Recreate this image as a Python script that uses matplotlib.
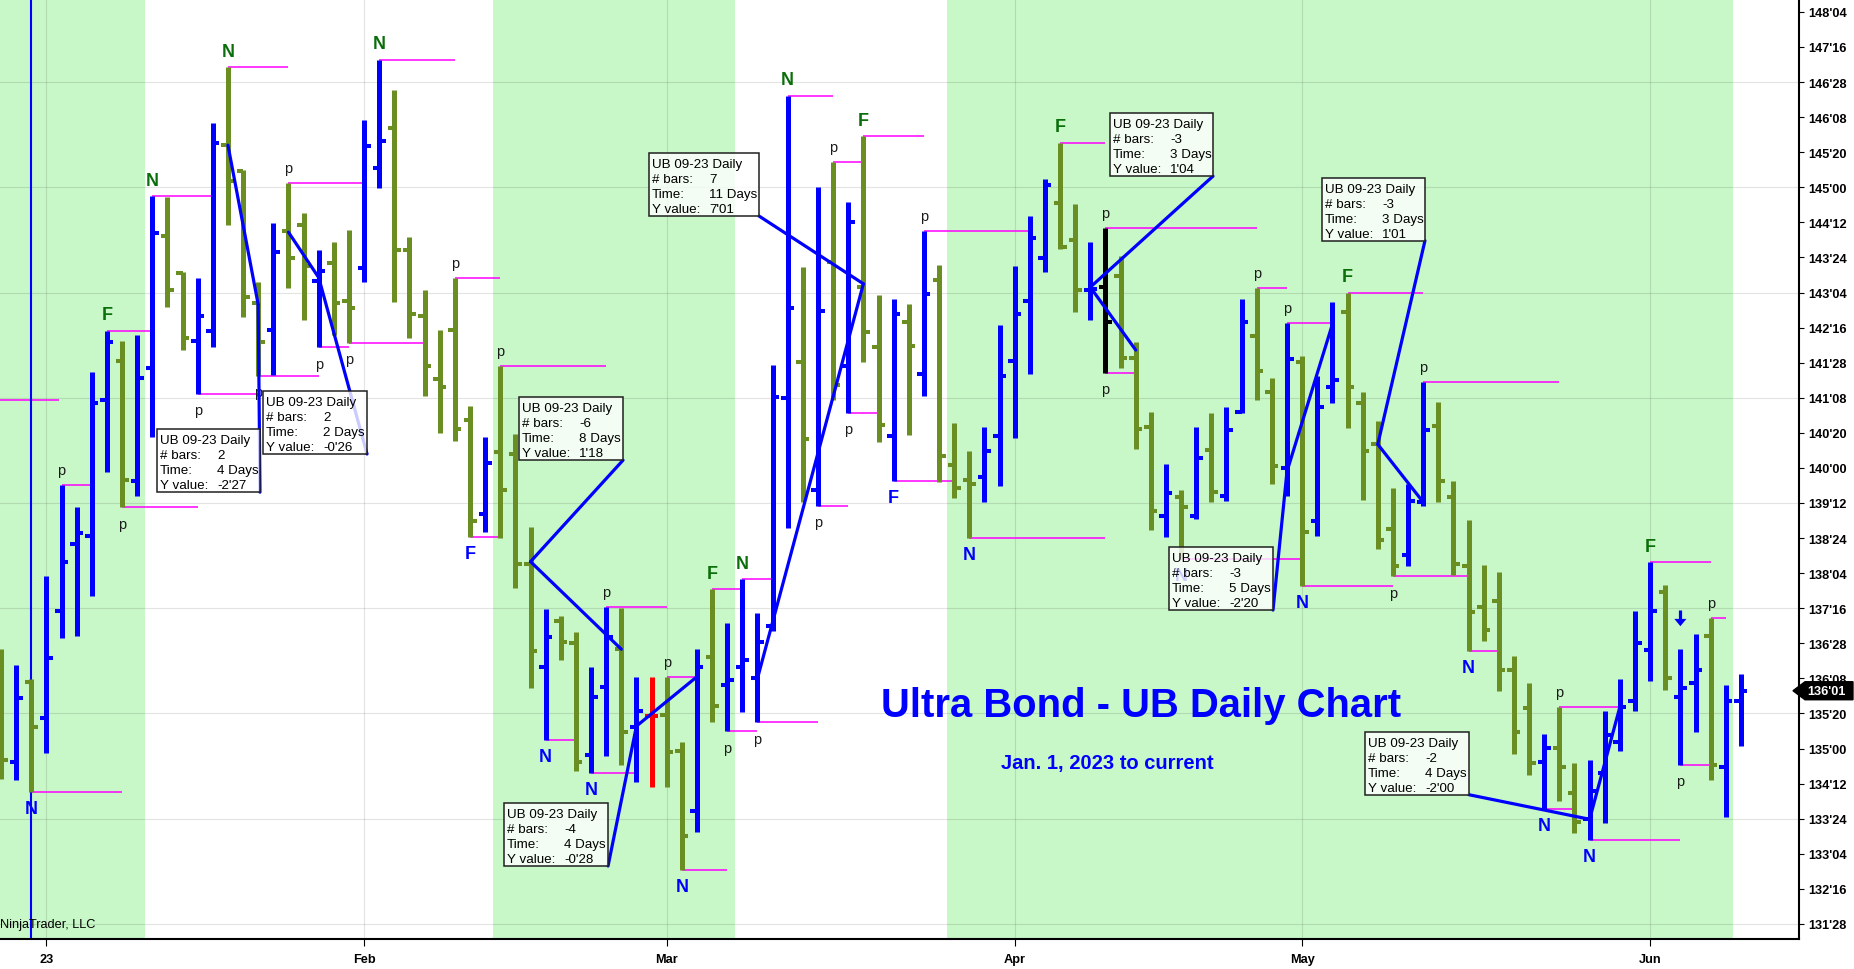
import matplotlib.pyplot as plt
from matplotlib.patches import Rectangle, Polygon
import numpy as np

plt.rcParams['font.family'] = ['Liberation Sans', 'DejaVu Sans']

# UB 09-23 daily bars, bar 0 = Dec 28 2022 ... bar 115 = Jun 9 2023
opens = [136.51, 134.76, 136.19, 135.54, 137.45, 138.64, 138.79, 141.21, 141.91, 139.77,
         141.78, 144.13, 143.47, 142.26, 142.44, 145.75, 145.29, 142.94, 142.46, 144.22,
         144.33, 143.33, 143.65, 142.97, 143.56, 145.34, 146.06, 143.88, 142.71, 141.58,
         142.46, 140.85, 139.18, 140.28, 140.25, 138.29, 136.45, 137.27, 136.88, 134.89,
         136.10, 136.77, 135.38, 135.58, 135.60, 134.96, 133.89, 136.63, 136.13, 136.45,
         136.26, 137.18, 141.25, 141.89, 139.61, 143.67, 141.82, 143.22, 142.15, 140.57,
         142.60, 141.67, 143.35, 140.05, 139.78, 139.84, 140.57, 141.91, 142.97, 143.74,
         144.72, 144.06, 143.17, 143.22, 143.42, 141.96, 140.73, 139.14, 139.48, 139.14,
         140.32, 139.50, 141.00, 142.35, 141.35, 140.00, 141.89, 139.05, 141.44, 142.78,
         141.16, 140.43, 138.91, 138.45, 139.39, 140.75, 139.48, 138.25, 137.52, 137.63,
         136.40, 135.72, 134.76, 135.01, 134.21, 133.74, 134.56, 135.12, 135.85, 136.76,
         137.79, 135.92, 136.17, 137.00, 134.67, 135.85]
highs = [136.77, 136.49, 136.24, 138.07, 139.69, 139.30, 141.71, 142.44, 142.26, 142.37,
         144.84, 144.83, 143.49, 143.38, 146.14, 147.14, 145.31, 143.31, 144.36, 145.08,
         144.54, 143.88, 144.02, 144.24, 146.20, 147.27, 146.73, 144.11, 143.17, 142.46,
         143.38, 141.10, 140.55, 141.82, 140.60, 138.95, 137.49, 137.36, 137.08, 136.45,
         137.52, 137.50, 136.28, 136.28, 136.28, 135.12, 136.77, 137.84, 137.24, 138.02,
         137.42, 141.83, 146.63, 143.58, 145.00, 145.45, 144.74, 145.91, 143.08, 143.01,
         142.92, 144.22, 143.62, 140.80, 140.30, 140.73, 142.55, 143.60, 144.49, 145.15,
         145.79, 144.70, 144.02, 144.27, 143.78, 142.24, 141.00, 140.07, 139.61, 140.73,
         140.98, 141.08, 143.01, 143.20, 141.60, 142.58, 141.99, 141.64, 142.95, 143.12,
         141.35, 140.84, 139.64, 139.71, 141.53, 141.17, 139.77, 139.07, 138.27, 138.15,
         136.65, 136.17, 135.26, 135.74, 134.74, 134.80, 135.67, 136.24, 137.45, 138.32,
         137.91, 136.77, 137.04, 137.33, 136.13, 136.33]
lows = [134.46, 134.44, 134.23, 134.92, 136.97, 137.00, 137.72, 139.93, 139.30, 139.50,
        140.55, 142.87, 142.10, 141.32, 142.15, 144.33, 142.69, 141.64, 141.65, 143.20,
        142.64, 142.15, 142.37, 142.23, 143.31, 144.99, 142.95, 142.31, 141.28, 140.62,
        140.48, 138.77, 138.86, 138.75, 137.86, 136.08, 135.15, 136.58, 134.60, 134.56,
        134.87, 134.71, 134.40, 134.31, 134.31, 132.84, 133.51, 135.47, 135.31, 135.65,
        135.47, 137.09, 138.93, 139.39, 139.32, 141.21, 140.98, 141.89, 140.46, 139.77,
        140.59, 141.28, 139.75, 139.46, 138.75, 139.39, 139.68, 140.53, 141.67, 143.49,
        143.90, 142.78, 142.64, 141.69, 141.78, 140.34, 138.89, 138.77, 138.38, 139.09,
        139.39, 139.41, 140.98, 141.21, 139.71, 139.50, 137.90, 138.79, 141.16, 140.71,
        139.43, 138.55, 138.07, 138.25, 139.32, 139.39, 138.09, 136.74, 136.92, 136.03,
        134.90, 134.53, 133.92, 134.07, 133.50, 133.37, 133.67, 134.96, 135.67, 136.20,
        136.04, 134.71, 135.29, 134.44, 133.78, 135.05]
closes = [134.80, 135.90, 135.38, 136.61, 138.32, 138.84, 141.16, 142.24, 139.78, 141.60,
          144.19, 143.17, 142.31, 142.71, 145.79, 145.11, 143.04, 142.24, 143.85, 143.74,
          143.60, 143.51, 142.94, 142.85, 145.74, 145.82, 143.88, 142.74, 141.82, 141.44,
          140.69, 139.05, 140.09, 139.61, 138.29, 136.74, 136.99, 136.90, 134.76, 135.92,
          136.99, 135.29, 135.67, 135.58, 134.94, 133.44, 136.45, 135.76, 136.22, 136.58,
          136.90, 141.26, 142.85, 140.51, 142.80, 141.48, 144.38, 142.42, 140.76, 142.74,
          142.17, 143.10, 140.21, 139.64, 139.71, 140.30, 141.64, 142.74, 144.10, 145.04,
          143.94, 143.17, 143.19, 142.60, 141.96, 140.69, 139.23, 139.55, 139.30, 140.18,
          139.57, 140.67, 142.60, 141.73, 140.03, 141.94, 138.86, 141.08, 141.57, 141.44,
          140.30, 138.72, 138.25, 139.41, 140.67, 139.77, 138.29, 137.43, 137.11, 136.40,
          135.30, 134.74, 135.01, 134.67, 133.69, 134.24, 135.24, 135.74, 136.88, 137.45,
          136.26, 136.08, 136.40, 134.71, 135.85, 136.03]
special_colors = {43: 'red', 73: 'black'}

month_bars = [3, 24, 44, 67, 86, 109]
month_labels = ['23', 'Feb', 'Mar', 'Apr', 'May', 'Jun']

# green background bands (bar units)
shade_spans = [(-1, 9.5), (32.5, 48.5), (62.5, 114.45)]

# swing markers: bar, side, label, bar where the magenta line stops
pivots = [(2, 'L', 'N', 8), (4, 'H', 'p', 6), (7, 'H', 'F', 10), (8, 'L', 'p', 13),
          (10, 'H', 'N', 14), (13, 'L', 'p', 17), (15, 'H', 'N', 19), (17, 'L', 'p', 21),
          (19, 'H', 'p', 24), (21, 'L', 'p', 23), (23, 'L', 'p', 28), (25, 'H', 'N', 30),
          (30, 'H', 'p', 33), (31, 'L', 'F', 33), (33, 'H', 'p', 40), (36, 'L', 'N', 38),
          (39, 'L', 'N', 42), (40, 'H', 'p', 44), (44, 'H', 'p', 46), (45, 'L', 'N', 48),
          (47, 'H', 'F', 49), (48, 'L', 'p', 50), (49, 'H', 'N', 51), (50, 'L', 'p', 54),
          (52, 'H', 'N', 55), (54, 'L', 'p', 56), (55, 'H', 'p', 57), (56, 'L', 'p', 58),
          (57, 'H', 'F', 61), (59, 'L', 'F', 63), (61, 'H', 'p', 68), (64, 'L', 'N', 73),
          (70, 'H', 'F', 73), (73, 'H', 'p', 83), (73, 'L', 'p', 75), (78, 'L', 'N', 86),
          (83, 'H', 'p', 85), (85, 'H', 'p', 88), (86, 'L', 'N', 92), (89, 'H', 'F', 94),
          (92, 'L', 'p', 97), (94, 'H', 'p', 103), (97, 'L', 'N', 99), (102, 'L', 'N', 104),
          (103, 'H', 'p', 107), (105, 'L', 'N', 111), (109, 'H', 'F', 113), (111, 'L', 'p', 113),
          (113, 'H', 'p', 114)]
old_level = (141.21, -1, 3.85)

# ruler drawings: start bar, start price, end bar, end price, # bars, time, y value
rulers = [(15, 145.75, 17, 142.91, '2', '4 Days', "-2'27"),
          (19, 144.20, 21, 143.39, '2', '2 Days', "-0'26"),
          (41, 136.77, 35, 138.33, '-6', '8 Days', "1'18"),
          (46, 136.28, 42, 135.40, '-4', '4 Days', "-0'28"),
          (50, 136.25, 57, 143.28, '7', '11 Days', "7'01"),
          (75, 142.10, 72, 143.22, '-3', '3 Days', "1'04"),
          (88, 142.56, 85, 139.94, '-3', '5 Days', "-2'20"),
          (94, 139.39, 91, 140.42, '-3', '3 Days', "1'01"),
          (107, 135.74, 105, 133.74, '-2', '4 Days', "-2'00")]
# text box of each ruler: left (bar), top (price), width (px)
ruler_boxes = [(10.31, 140.69, 103), (17.32, 141.37, 104), (34.24, 141.26, 104),
               (33.25, 134.03, 104), (42.83, 145.61, 110), (73.30, 146.32, 103),
               (77.20, 138.59, 104), (87.31, 145.17, 103), (90.15, 135.30, 104)]

arrow_bar, arrow_top, arrow_tip = 111, 137.47, 137.18

BLUE = '#0000ff'
OLIVE = '#6b8e23'
GREEN_TXT = '#0a6e0a'
BAR_PX = 15.13      # pixels per bar
PRICE_PX = 56.13    # pixels per point


def fmt32(p):
    whole = int(np.floor(p + 1e-9))
    t = int(round((p - whole) * 32))
    if t == 32:
        whole, t = whole + 1, 0
    return "%d'%02d" % (whole, t)


fig = plt.figure(figsize=(18.54, 9.70), dpi=100)
ax = fig.add_axes([0, 30 / 970, 1799 / 1854, 940 / 970])
ax.set_xlim(-0.066, 118.84)
ax.set_ylim(131.607, 148.354)

for a, b in shade_spans:
    ax.axvspan(a, b, color='#c8f7c8', lw=0, zorder=0)

yt = 131.875 + 0.625 * np.arange(27)
for y in yt[::3]:
    ax.axhline(y, color='black', alpha=0.11, lw=0.8, zorder=0.5)
for m in month_bars:
    ax.axvline(m, color='black', alpha=0.11, lw=0.8, zorder=0.5)

ax.axvline(2, color=BLUE, lw=1.5, zorder=2.5)

n = len(opens)
idx = np.arange(n)
colors = []
for i in range(n):
    if i in special_colors:
        colors.append(special_colors[i])
    elif closes[i] >= opens[i]:
        colors.append(BLUE)
    else:
        colors.append(OLIVE)

# magenta swing levels
ax.hlines(old_level[0], old_level[1], old_level[2], color='#ff00ff', lw=1.1, zorder=2)
for bar, side, lab, end in pivots:
    price = highs[bar] if side == 'H' else lows[bar]
    ax.hlines(price, bar, end, color='#ff00ff', lw=1.1, zorder=2)

ax.vlines(idx, lows, highs, colors=colors, lw=3.6, capstyle='butt', zorder=3)
ax.hlines(opens, idx - 0.43, idx, colors=colors, lw=2.9, capstyle='butt', zorder=3)
ax.hlines(closes, idx, idx + 0.43, colors=colors, lw=2.9, capstyle='butt', zorder=3)

for bar, side, lab, end in pivots:
    if side == 'H':
        price, dy = highs[bar], 11.5 if lab != 'p' else 10.8
        col = GREEN_TXT if lab != 'p' else '#1a1a1a'
    else:
        price, dy = lows[bar], -11.8
        col = BLUE if lab != 'p' else '#1a1a1a'
    if lab == 'p':
        ax.annotate(lab, (bar, price), xytext=(0, dy), textcoords='offset points',
                    ha='center', va='center', fontsize=10.5, color=col, zorder=3.5)
    else:
        ax.annotate(lab, (bar, price), xytext=(0, dy), textcoords='offset points',
                    ha='center', va='center', fontsize=13, fontweight='bold',
                    color=col, zorder=3.5)

# rulers and their text boxes
bh = 63 / PRICE_PX
for (sb, sp, eb, ep, nb, tm, yv), (left, top, wpx) in zip(rulers, ruler_boxes):
    bw = wpx / BAR_PX
    ax.plot([sb, eb], [sp, ep], color=BLUE, lw=2.3, zorder=4, solid_capstyle='round')
    ax.plot([eb, left + bw], [ep, top - bh], color=BLUE, lw=2.3, zorder=4,
            solid_capstyle='round')
    ax.add_patch(Rectangle((left, top - bh), bw, bh, facecolor=(1, 1, 1, 0.8),
                           edgecolor='#202020', lw=1.1, zorder=5))
    rows = [('UB 09-23 Daily', ''), ('# bars:', nb), ('Time:', tm), ('Y value:', yv)]
    for k, (lab, val) in enumerate(rows):
        yy = top - (11 + 15 * k) / PRICE_PX
        ax.text(left + 3 / BAR_PX, yy, lab, fontsize=9.6, va='center', ha='left',
                color='black', zorder=6)
        if val:
            ax.text(left + 60 / BAR_PX, yy, val, fontsize=9.6, va='center', ha='left',
                    color='black', zorder=6)

# small down arrow
ax.plot([arrow_bar, arrow_bar], [arrow_top, arrow_tip + 0.12], color=BLUE, lw=2.3,
        solid_capstyle='butt', zorder=4)
ax.add_patch(Polygon([(arrow_bar - 0.4, arrow_tip + 0.13), (arrow_bar + 0.4, arrow_tip + 0.13),
                      (arrow_bar, arrow_tip)], closed=True, color=BLUE, lw=0, zorder=4))

ax.text(75.35, 135.58, 'Ultra Bond - UB Daily Chart', ha='center', va='baseline',
        fontsize=28.8, fontweight='bold', color=BLUE, zorder=7)
ax.text(73.1, 134.65, 'Jan. 1, 2023 to current', ha='center', va='baseline',
        fontsize=14.5, fontweight='bold', color=BLUE, zorder=7)
ax.text(0.0, 131.87, 'NinjaTrader, LLC', ha='left', va='center', fontsize=9.2,
        color='black', zorder=7, transform=ax.get_yaxis_transform())

# axes styling
for s in ['top', 'left']:
    ax.spines[s].set_visible(False)
ax.spines['bottom'].set_linewidth(1.5)
ax.spines['right'].set_linewidth(1.5)
ax.yaxis.tick_right()
ax.set_yticks(yt)
ax.set_yticklabels([fmt32(v) for v in yt], fontsize=9.2, fontweight='bold')
ax.tick_params(axis='y', length=3.6, width=0.8, pad=3)
ax.set_xticks(month_bars)
ax.set_xticklabels(month_labels, fontsize=9.2, fontweight='bold')
ax.tick_params(axis='x', length=5, width=0.8, pad=5)

# last price tag
last = closes[-1]
hh = 9 / PRICE_PX
tr = ax.get_yaxis_transform()
ax.add_patch(Polygon([(0.99666, last), (1.00334, last + hh), (1.0300, last + hh),
                      (1.0300, last - hh), (1.00334, last - hh)], closed=True,
                     color='black', transform=tr, clip_on=False, zorder=10))
ax.text(1.0046, last, fmt32(last), transform=tr, ha='left', va='center', fontsize=9.2,
        fontweight='bold', color='white', zorder=11, clip_on=False)

fig.savefig('out.png', dpi=100)
